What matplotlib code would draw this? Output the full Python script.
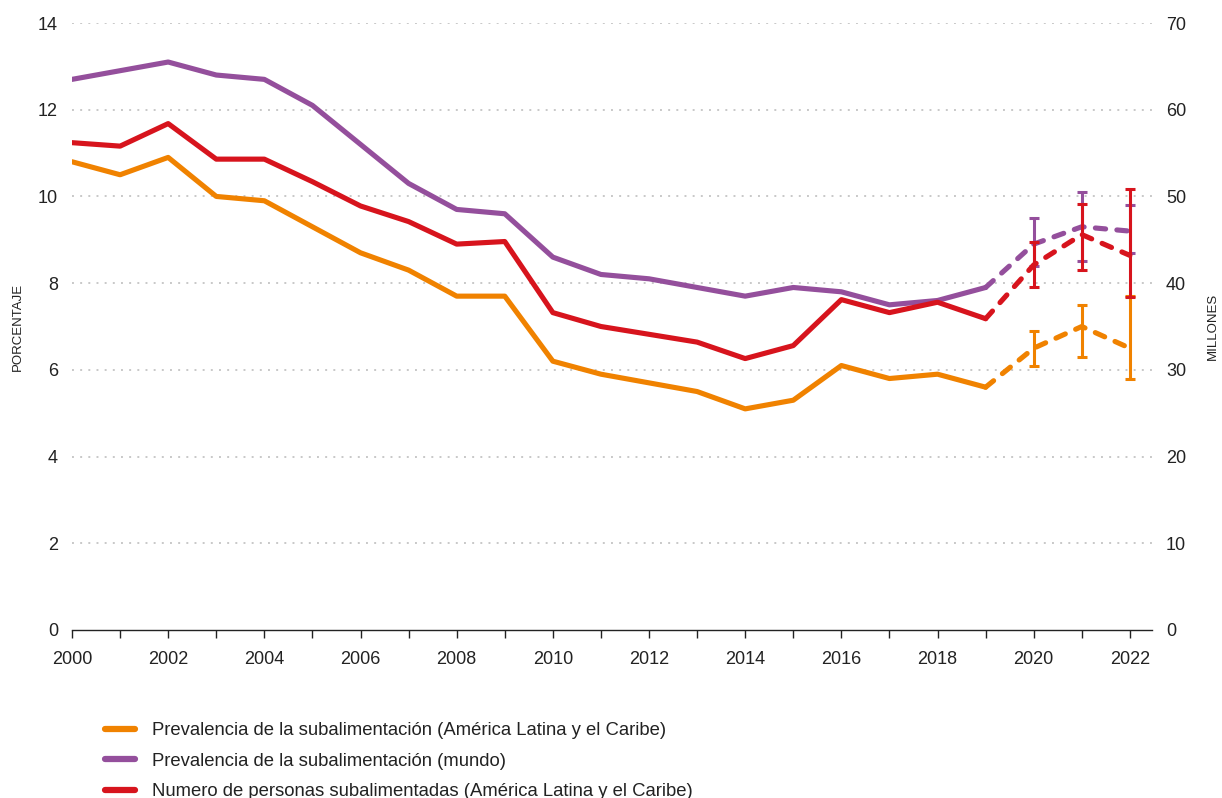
import numpy as np
import matplotlib
matplotlib.use("Agg")
import matplotlib.pyplot as plt
from matplotlib.lines import Line2D

plt.rcParams['font.family'] = ['Liberation Sans', 'DejaVu Sans']

# years
years = list(range(2000, 2023))

# prevalencia ALC (%), 2000-2022
orange = [10.8, 10.5, 10.9, 10.0, 9.9, 9.3, 8.7, 8.3, 7.7, 7.7,
          6.2, 5.9, 5.7, 5.5, 5.1, 5.3, 6.1, 5.8, 5.9, 5.6,
          6.5, 7.0, 6.5]
orange_lo = [6.1, 6.3, 5.8]
orange_hi = [6.9, 7.5, 7.7]

# prevalencia mundo (%)
purple = [12.7, 12.9, 13.1, 12.8, 12.7, 12.1, 11.2, 10.3, 9.7, 9.6,
          8.6, 8.2, 8.1, 7.9, 7.7, 7.9, 7.8, 7.5, 7.6, 7.9,
          8.9, 9.3, 9.2]
purple_lo = [8.4, 8.5, 8.7]
purple_hi = [9.5, 10.1, 9.8]

# personas subalimentadas ALC (millones)
red = [56.2, 55.8, 58.4, 54.3, 54.3, 51.7, 48.9, 47.1, 44.5, 44.8,
       36.6, 35.0, 34.1, 33.2, 31.3, 32.8, 38.1, 36.6, 37.8, 35.9,
       42.1, 45.6, 43.2]
red_lo = [39.5, 41.5, 38.4]
red_hi = [44.7, 49.1, 50.9]

c_orange = '#f08200'
c_purple = '#944f9c'
c_red = '#d7141d'

fig = plt.figure(figsize=(12.22, 7.98), dpi=100)
ax = fig.add_axes([72/1222, 1-630/798, 1080/1222, 607/798])
ax2 = ax.twinx()

lw = 3.7
n = 20  # last observed point index (2019)

def draw(a, vals, lo, hi, col, z):
    a.plot(years[:n], vals[:n], color=col, lw=lw, solid_joinstyle='round',
           solid_capstyle='round', zorder=z)
    a.plot(years[n-1:], vals[n-1:], color=col, lw=lw, dashes=(2.0, 2.2),
           dash_capstyle='round', zorder=z)
    v = np.array(vals[n:])
    a.errorbar(years[n:], v, yerr=[v - np.array(lo), np.array(hi) - v],
               fmt='none', ecolor=col, elinewidth=2.2, capsize=3.6,
               capthick=2.2, zorder=z + 1)

draw(ax, orange, orange_lo, orange_hi, c_orange, 3)
draw(ax, purple, purple_lo, purple_hi, c_purple, 4)
draw(ax2, red, red_lo, red_hi, c_red, 3)

ax.set_xlim(2000, 2022.46)
ax.set_ylim(0, 14)
ax2.set_ylim(0, 70)
ax.set_yticks(range(0, 15, 2))
ax2.set_yticks(range(0, 71, 10))
ax.set_xticks(years, minor=True)
ax.set_xticks(range(2000, 2023, 2))

for g in range(2, 15, 2):
    ax.axhline(g, color='#c8c8c8', lw=1.4, ls=(0, (1, 3.2)), zorder=0)

for a in (ax, ax2):
    for s in ('top', 'right', 'left'):
        a.spines[s].set_visible(False)
ax2.spines['bottom'].set_visible(False)
ax.spines['bottom'].set_color('#222222')
ax.spines['bottom'].set_linewidth(1.0)

ax.tick_params(axis='x', which='both', length=6, width=1.0, color='#222222',
               labelsize=13, pad=9, labelcolor='#222222')
ax.tick_params(axis='x', which='minor', labelbottom=False)
ax.tick_params(axis='y', length=0, labelsize=13, pad=10, labelcolor='#222222')
ax2.tick_params(axis='y', length=0, labelsize=13, pad=10, labelcolor='#222222')

ax.set_ylabel('PORCENTAJE', fontsize=9.5, color='#222222')
ax.yaxis.label.set_va('center')
ax.yaxis.set_label_coords((18 - 72) / 1080, 0.5)
ax2.set_ylabel('MILLONES', fontsize=9.5, color='#222222', rotation=90)
ax2.yaxis.label.set_va('center')
ax2.yaxis.set_label_coords((1213 - 72) / 1080, 0.5)

handles = [Line2D([], [], color=c, lw=4.5, solid_capstyle='round')
           for c in (c_orange, c_purple, c_red)]
labels = ['Prevalencia de la subalimentación (América Latina y el Caribe)',
          'Prevalencia de la subalimentación (mundo)',
          'Numero de personas subalimentadas (América Latina y el Caribe)']
fig.legend(handles, labels, loc='upper left', bbox_to_anchor=(0.080, 0.104),
           frameon=False, fontsize=13.3, handlelength=1.6, handletextpad=0.95,
           labelspacing=0.72, borderaxespad=0, labelcolor='#222222')

fig.savefig('out.png', dpi=100)
